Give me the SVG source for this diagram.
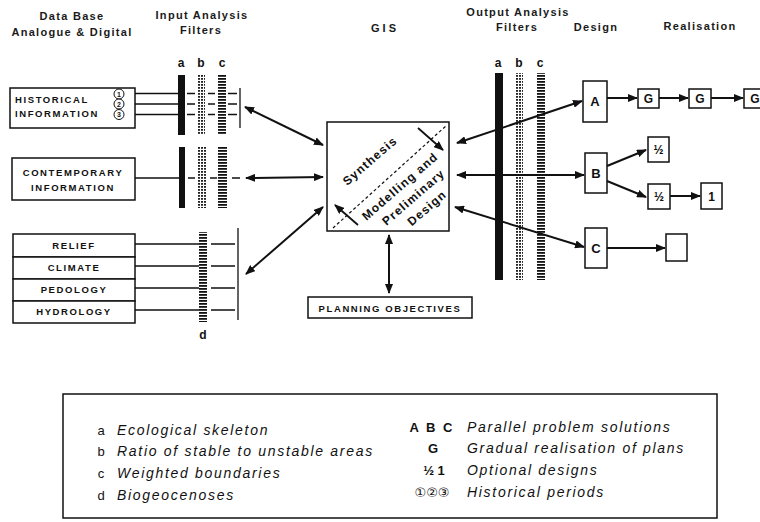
<svg xmlns="http://www.w3.org/2000/svg" width="760" height="522" viewBox="0 0 760 522">
<defs>
<style>
.hd{font-family:"Liberation Sans",Arial,sans-serif;font-weight:bold;font-size:11px;letter-spacing:1.3px;fill:#1a1a1a;text-anchor:middle}
.box{fill:#fff;stroke:#111;stroke-width:1.5}
.bt{font-family:"Liberation Sans",Arial,sans-serif;font-weight:bold;font-size:9.5px;letter-spacing:1.6px;fill:#111}
.mid{text-anchor:middle}
.ln{stroke:#111;stroke-width:1.3;fill:none}
.ar{stroke:#111;stroke-width:2;fill:none;marker-end:url(#ah)}
.dar{stroke:#111;stroke-width:2;fill:none;marker-end:url(#ah);marker-start:url(#ah)}
.lt{font-family:"Liberation Sans",Arial,sans-serif;font-weight:bold;font-size:12px;fill:#111;text-anchor:middle}
.dl{font-family:"Liberation Sans",Arial,sans-serif;font-weight:bold;font-size:13px;fill:#111;text-anchor:middle}
.gis{font-family:"Liberation Sans",Arial,sans-serif;font-weight:bold;font-size:12px;letter-spacing:1.2px;fill:#111;text-anchor:middle}
.lg{font-family:"Liberation Sans",Arial,sans-serif;font-style:italic;font-size:14px;letter-spacing:1.7px;fill:#111}
.lk{font-family:"Liberation Sans",Arial,sans-serif;font-weight:bold;font-size:13px;fill:#111;text-anchor:middle}
.fa{fill:#111}
.fb{fill:url(#pb)}
.fc{fill:url(#pc)}
.cn{fill:#fff;stroke:#111;stroke-width:1}
.cd{font-family:"Liberation Sans",Arial,sans-serif;font-weight:bold;font-size:7px;fill:#111;text-anchor:middle}
</style>
<marker id="ah" viewBox="0 0 10 8" refX="9" refY="4" markerWidth="10" markerHeight="8" markerUnits="userSpaceOnUse" orient="auto-start-reverse"><path d="M0,0 L10,4 L0,8 z" fill="#111"/></marker>
<pattern id="pb" width="3" height="3" patternUnits="userSpaceOnUse"><rect width="2" height="1.8" fill="#222"/></pattern>
<pattern id="pc" width="10" height="3" patternUnits="userSpaceOnUse"><rect width="10" height="1.8" fill="#111"/></pattern>
</defs>
<rect width="760" height="522" fill="#fff"/>

<g id="headers">
<text class="hd" x="72" y="20">Data Base</text>
<text class="hd" x="72" y="36">Analogue &amp; Digital</text>
<text class="hd" x="202" y="19">Input Analysis</text>
<text class="hd" x="201" y="34">Filters</text>
<text class="hd" x="385" y="32" style="letter-spacing:3px">GIS</text>
<text class="hd" x="518" y="16">Output Analysis</text>
<text class="hd" x="517" y="31">Filters</text>
<text class="hd" x="596" y="31">Design</text>
<text class="hd" x="700" y="30">Realisation</text>
</g>

<g id="input-filters">
<text class="lt" x="181" y="67">a</text>
<text class="lt" x="201" y="67">b</text>
<text class="lt" x="222" y="67">c</text>
<rect class="fa" x="178" y="75" width="7" height="60"/>
<rect class="fb" x="197" y="75" width="8" height="60"/>
<rect class="fc" x="218" y="75" width="8" height="60"/>
<g class="ln">
<path d="M135,93.5H178M187,93.5H195M208,93.5H215M228,93.5H237"/>
<path d="M135,104H178M187,104H195M208,104H215M228,104H237"/>
<path d="M135,114.5H178M187,114.5H195M208,114.5H215M228,114.5H237"/>
<path d="M240,88V128"/>
</g>
<rect class="fa" x="179" y="147" width="6" height="61"/>
<rect class="fb" x="198" y="147" width="8" height="61"/>
<rect class="fc" x="218" y="147" width="9" height="61"/>
<path class="ln" d="M135,178H179M188,178H195M210,178H217M232,178H240"/>
<rect class="fc" x="199" y="232" width="8" height="90"/>
<g class="ln">
<path d="M135,244H199M211,244H235"/>
<path d="M135,266H199M211,266H235"/>
<path d="M135,288H199M211,288H235"/>
<path d="M135,310H199M211,310H235"/>
<path d="M238,228V320"/>
</g>
<text class="lt" x="203" y="339">d</text>
</g>

<g id="historical">
<rect class="box" x="10" y="88" width="125" height="40"/>
<text class="bt" x="15" y="103">HISTORICAL</text>
<text class="bt" x="15" y="117">INFORMATION</text>
<circle class="cn" cx="119" cy="94" r="5"/><text class="cd" x="119" y="96.5">1</text>
<circle class="cn" cx="119" cy="104" r="5"/><text class="cd" x="119" y="106.5">2</text>
<circle class="cn" cx="119" cy="114.5" r="5"/><text class="cd" x="119" y="117">3</text>
</g>

<g id="contemporary">
<rect class="box" x="12" y="158" width="123" height="42"/>
<text class="bt mid" x="73" y="176">CONTEMPORARY</text>
<text class="bt mid" x="73" y="191">INFORMATION</text>
</g>

<g id="relief"><rect class="box" x="13" y="234" width="122" height="23"/><text class="bt mid" x="74" y="249">RELIEF</text></g>
<g id="climate"><rect class="box" x="13" y="257" width="122" height="22"/><text class="bt mid" x="74" y="271">CLIMATE</text></g>
<g id="pedology"><rect class="box" x="13" y="279" width="122" height="22"/><text class="bt mid" x="74" y="293">PEDOLOGY</text></g>
<g id="hydrology"><rect class="box" x="13" y="301" width="122" height="22"/><text class="bt mid" x="74" y="315">HYDROLOGY</text></g>

<g id="output-filters">
<text class="lt" x="498" y="67">a</text>
<text class="lt" x="519" y="67">b</text>
<text class="lt" x="540" y="67">c</text>
<rect class="fa" x="495" y="73" width="8" height="207"/>
<rect class="fb" x="515" y="73" width="8" height="207"/>
<rect class="fc" x="537" y="73" width="8" height="207"/>
</g>

<g id="gis">
<rect class="box" x="327" y="122" width="122" height="109"/>
<path d="M333,228 L447,125" stroke="#111" stroke-width="1.2" stroke-dasharray="3,2.5" fill="none"/>
<path class="ar" d="M418,128 L443,150" style="stroke-width:1.8"/>
<path class="ar" d="M358,225 L335,205" style="stroke-width:1.8"/>
<g transform="translate(388,177) rotate(-41)">
<text class="gis" x="-3" y="-20">Synthesis</text>
<text class="gis" x="3" y="19">Modelling and</text>
<text class="gis" x="6" y="36">Preliminary</text>
<text class="gis" x="9" y="53">Design</text>
</g>
</g>

<g id="planning">
<rect class="box" x="308" y="297" width="164" height="21"/>
<text class="bt mid" x="390" y="311.5">PLANNING OBJECTIVES</text>
</g>

<g id="design-A"><rect class="box" x="583" y="81" width="24" height="41"/><text class="dl" x="595" y="106">A</text></g>
<g id="design-B"><rect class="box" x="585" y="153" width="22" height="40"/><text class="dl" x="596" y="178">B</text></g>
<g id="design-C"><rect class="box" x="585" y="228" width="22" height="40"/><text class="dl" x="596" y="253">C</text></g>
<g id="G1"><rect class="box" x="638" y="89" width="21" height="19"/><text class="lt" x="648.5" y="103">G</text></g>
<g id="G2"><rect class="box" x="689" y="89" width="22" height="19"/><text class="lt" x="700" y="103">G</text></g>
<g id="G3"><rect class="box" x="744" y="89" width="22" height="19"/><text class="lt" x="755" y="103">G</text></g>
<g id="half1"><rect class="box" x="648" y="137" width="21" height="25"/><text class="lt" x="658.5" y="154">½</text></g>
<g id="half2"><rect class="box" x="648" y="184" width="22" height="25"/><text class="lt" x="659" y="201">½</text></g>
<g id="one"><rect class="box" x="701" y="183" width="21" height="26"/><text class="lt" x="711.5" y="200.5">1</text></g>
<g id="empty"><rect class="box" x="666" y="234" width="21" height="27"/></g>

<g id="connectors">
<path class="dar" d="M245,107 L323,145"/>
<path class="dar" d="M246,178 L323,177"/>
<path class="dar" d="M246,274 L323,207"/>
<path class="dar" d="M389,235 L389,293"/>
<path class="dar" d="M457,143 L582,101"/>
<path class="dar" d="M457,175 L584,175"/>
<path class="dar" d="M455,207 L584,247"/>
<path class="ar" d="M607,98 L637,98"/>
<path class="ar" d="M659,98 L688,98"/>
<path class="ar" d="M711,98 L743,98"/>
<path class="ar" d="M607,166 L646,150"/>
<path class="ar" d="M607,181 L646,197"/>
<path class="ar" d="M670,196 L700,196"/>
<path class="ar" d="M607,248 L665,248"/>
</g>

<g id="legend">
<rect x="63" y="394" width="654" height="124" fill="none" stroke="#111" stroke-width="1.5"/>
<text class="lk" x="101" y="435" style="font-weight:normal">a</text><text class="lg" x="117" y="435">Ecological skeleton</text>
<text class="lk" x="101" y="456" style="font-weight:normal">b</text><text class="lg" x="117" y="456">Ratio of stable to unstable areas</text>
<text class="lk" x="101" y="478" style="font-weight:normal">c</text><text class="lg" x="117" y="478">Weighted boundaries</text>
<text class="lk" x="101" y="500" style="font-weight:normal">d</text><text class="lg" x="117" y="500">Biogeocenoses</text>
<text class="lk" x="432" y="432" style="letter-spacing:2px">A B C</text><text class="lg" x="467" y="432">Parallel problem solutions</text>
<text class="lk" x="433" y="453">G</text><text class="lg" x="467" y="453">Gradual realisation of plans</text>
<text class="lk" x="434" y="475">½ 1</text><text class="lg" x="467" y="475">Optional designs</text>
<text class="lk" x="432" y="497" style="font-family:'DejaVu Sans',sans-serif;font-size:13px;font-weight:normal">①②③</text><text class="lg" x="467" y="497">Historical periods</text>
</g>
</svg>
